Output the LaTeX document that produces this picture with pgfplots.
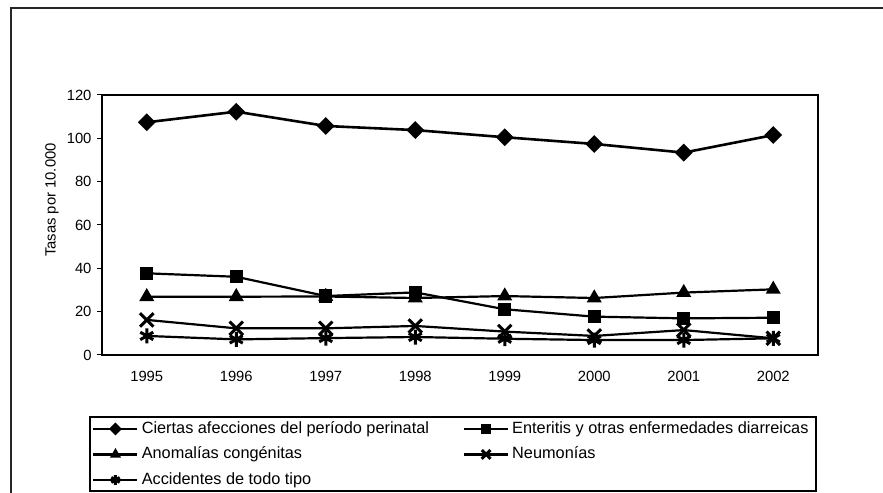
\documentclass[border=0pt]{standalone}
\usepackage{fontspec}
\setmainfont{Liberation Sans}
\usepackage{pgfplots}
\pgfplotsset{compat=1.18}
\begin{document}
\begin{tikzpicture}[x=1bp,y=1bp]
\useasboundingbox (0,0) rectangle (883,493);
\draw[line width=1.2bp, black!85] (11,0) -- (11,485) -- (883,485);
\draw[line width=1.3bp] (90,2) rectangle (816,76);
\begin{axis}[
  scale only axis, width=716bp, height=260bp,
  at={(102bp,138bp)}, anchor=south west,
  xmin=-0.5, xmax=7.5, ymin=0, ymax=120,
  xtick={0,1,2,3,4,5,6,7},
  xticklabels={1995,1996,1997,1998,1999,2000,2001,2002},
  ytick={0,20,40,60,80,100,120},
  ytick pos=left,
  tick align=outside, major tick length=5bp,
  x tick style={draw=none},
  y tick style={black, line width=1bp},
  axis line style={line width=1.8bp},
  tick label style={font=\fontsize{14.8bp}{17bp}\selectfont},
  /pgf/number format/assume math mode=true,
  yticklabel style={xshift=-2bp},
  xticklabel style={yshift=-8bp},
  ylabel={Tasas por 10.000},
  ylabel style={font=\fontsize{14.8bp}{17bp}\selectfont, at={(axis description cs:-0.0698,0.596)}, anchor=center},
  legend columns=2,
  legend cell align=left,
  legend style={at={(axis description cs:-0.01397,-0.2538)}, anchor=north west,
    draw=none, fill=none, inner sep=0pt,
    font=\fontsize{16.3bp}{19bp}\selectfont,
    nodes={inner sep=0pt, text height=12bp, text depth=3.5bp},
    row sep=10bp,
    /tikz/every odd column/.append style={column sep=3bp},
    /tikz/every even column/.append style={column sep=34bp}},
  legend image code/.code={\draw[#1, /tikz/every mark/.append style={scale=0.65}, mark repeat=2, mark phase=2] plot coordinates {(0bp,0bp) (22bp,0bp) (44bp,0bp)};},
]
\addplot[black, line width=2.6bp, mark=square*, mark size=5bp, mark options={solid, rotate=45}]
  coordinates {(0,107.4) (1,112.3) (2,105.7) (3,103.8) (4,100.5) (5,97.4) (6,93.4) (7,101.5)};
\addlegendentry{Ciertas afecciones del período perinatal}
\addplot[black, line width=2.2bp, mark=square*, mark size=5.5bp, mark options={solid}]
  coordinates {(0,37.7) (1,36.1) (2,27.2) (3,28.9) (4,21.1) (5,17.7) (6,16.9) (7,17.2)};
\addlegendentry{Enteritis y otras enfermedades diarreicas}
\addplot[black, line width=2.2bp, mark=triangle*, mark size=6.5bp, mark options={solid}]
  coordinates {(0,26.9) (1,26.9) (2,27.0) (3,26.3) (4,27.2) (5,26.3) (6,28.8) (7,30.3)};
\addlegendentry{Anomalías congénitas}
\addplot[black, line width=2.2bp, mark=x, mark size=9.5bp, mark options={solid, line width=3bp}]
  coordinates {(0,16.2) (1,12.3) (2,12.3) (3,13.4) (4,10.8) (5,8.8) (6,11.5) (7,7.7)};
\addlegendentry{Neumonías}
\addplot[black, line width=2.2bp, mark=asterisk, mark size=7.5bp, mark options={solid, line width=3bp}]
  coordinates {(0,8.8) (1,7.2) (2,7.8) (3,8.3) (4,7.5) (5,6.9) (6,6.9) (7,7.7)};
\addlegendentry{Accidentes de todo tipo}
\end{axis}
\end{tikzpicture}
\end{document}
